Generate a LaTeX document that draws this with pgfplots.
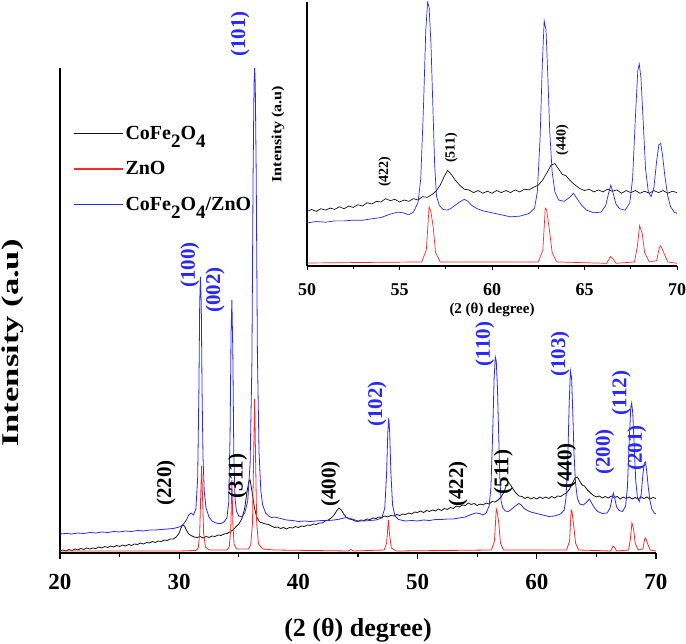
\documentclass[border=0pt]{standalone}
\usepackage{pgfplots}
\pgfplotsset{compat=1.18}
\usepackage{pgfplotstable}
\usepackage{fontspec}
\setmainfont{Liberation Serif}

\definecolor{cfo}{RGB}{20,20,20}
\definecolor{zno}{RGB}{255,40,40}
\definecolor{mix}{RGB}{40,40,255}
\newcommand{\sub}[1]{\raisebox{-8pt}{\fontsize{19}{19}\selectfont #1}}

% CoFe2O4
\pgfplotstableread{
x y
20.0 2
20.25 3
20.5 2
20.75 3.5
21.0 2.5
21.25 4
21.5 3
21.75 4.5
22.0 3.5
22.25 5
22.5 4
22.75 5
23.0 4.5
23.25 6
23.5 5
23.75 6.5
24.0 5.5
24.25 7
24.5 6
24.75 7.5
25.0 6.5
25.25 8
25.5 7
25.75 8.5
26.0 7.5
26.25 9
26.5 8.5
26.75 10
27.0 9
27.25 10.5
27.5 10
27.75 11.5
28.0 10.5
28.25 12
28.5 11.5
28.75 13
29.0 12.5
29.25 14
29.5 14
29.75 16
30.0 20
30.15 25
30.3 28
30.45 27
30.6 23
30.8 19
31.0 17.5
31.25 16
31.5 15.5
31.75 16.5
32.0 15
32.25 16.5
32.5 15.5
32.75 17
33.0 16.5
33.25 18
33.5 17.5
33.75 19
34.0 19.5
34.25 21
34.5 23
34.75 26
35.0 29
35.25 34
35.5 45
35.7 62
35.85 72
35.95 73
36.1 62
36.3 46
36.5 36
36.75 31
37.0 30
37.25 29
37.5 28.5
37.75 27
38.0 25.5
38.25 26
38.5 24.5
38.75 25.5
39.0 24
39.25 25.5
39.5 25
39.75 26.5
40.0 25.5
40.25 27
40.5 26.5
40.75 28
41.0 27.5
41.25 29
41.5 28.5
41.75 30
42.0 30
42.25 32
42.5 33
42.75 35
43.0 38
43.2 42
43.4 45
43.6 43
43.8 39
44.0 36
44.25 34
44.5 33.5
44.75 32
45.0 31.5
45.25 33
45.5 32.5
45.75 34
46.0 33.5
46.25 35
46.5 34.5
46.75 36
47.0 35.5
47.25 37
47.5 36
47.75 37.5
48.0 37
48.25 38.5
48.5 37.5
48.75 39
49.0 38.5
49.25 40
49.5 39
49.75 41
50.0 40.5
50.25 42
50.5 40.5
50.75 42.5
51.0 41.5
51.25 43
51.5 42
51.75 44
52.0 42.5
52.25 44.5
52.5 43.5
52.75 45.5
53.0 44.5
53.25 47
53.5 46
53.75 48
54.0 47.5
54.25 50
54.5 48.5
54.75 49.5
55.0 47.5
55.25 49
55.5 48
55.75 50
56.0 49
56.25 51.5
56.5 51
56.75 53
57.0 56
57.2 60
57.4 66
57.6 71
57.8 68
58.0 64
58.25 60
58.5 57
58.75 56.5
59.0 54.5
59.25 56
59.5 54
59.75 55.5
60.0 54
60.25 56
60.5 54.5
60.75 56
61.0 54.5
61.25 56.5
61.5 55
61.75 57
62.0 56.5
62.25 58.5
62.5 60
62.75 64
63.0 70
63.2 75
63.4 76
63.6 72
63.8 68
64.0 67
64.25 63
64.5 60
64.75 57.5
65.0 56
65.25 57
65.5 55
65.75 56.5
66.0 55
66.25 57
66.5 55.5
66.75 56.5
67.0 54
67.25 56
67.5 54.5
67.75 56
68.0 54
68.25 55.5
68.5 54
68.75 56
69.0 54.5
69.25 56
69.5 54
69.75 55.5
70.0 54.5
}\cfotab

% ZnO
\pgfplotstableread{
x y
20 2
25 2
30 2
31.4 2.5
31.6 5
31.72 20
31.8 55
31.88 87
31.96 55
32.05 20
32.2 6
32.5 3
34.0 3
34.2 6
34.33 25
34.42 73
34.5 30
34.6 9
34.8 4
35.8 4
36.0 8
36.15 30
36.25 100
36.33 154
36.4 100
36.5 30
36.65 9
37 4
38 3
44.2 2
44.4 3.5
44.6 2
47.2 3
47.4 10
47.55 33
47.65 18
47.8 5
48.2 2
56.2 3
56.45 12
56.6 44
56.7 40
56.82 29
56.95 10
57.2 3
62.5 3
62.75 12
62.88 43
62.95 42
63.1 27
63.25 10
63.5 3
66.2 2
66.4 7
66.55 5
66.7 2
67.7 3
67.85 14
67.98 30
68.12 24
68.25 10
68.5 3
68.9 4
69.05 14
69.12 15
69.28 10
69.5 3
70 2
}\znotab

% CoFe2O4/ZnO
\pgfplotstableread{
x y
20.0 19
20.5 19.5
21.0 19
21.5 20
22.0 19.5
22.5 20.5
23.0 20
23.5 21
24.0 20.5
24.5 21.5
25.0 21
25.5 22
26.0 21.5
26.5 22.5
27.0 22
27.5 23
28.0 23
28.5 23.5
29.0 24
29.5 24.5
30.0 26
30.3 28
30.6 33
30.8 38
31.0 40
31.2 38
31.4 44
31.55 75
31.65 160
31.72 250
31.78 276
31.85 250
31.92 160
32.0 95
32.1 62
32.25 45
32.5 36
32.75 32
33.0 30.5
33.25 29.5
33.5 29.5
33.75 31
34.0 35
34.15 50
34.27 120
34.35 220
34.42 253
34.5 200
34.58 100
34.68 55
34.8 42
35.0 37
35.25 36
35.5 40
35.75 52
35.95 90
36.1 190
36.2 380
36.28 470
36.33 485
36.38 470
36.46 380
36.56 200
36.7 100
36.85 62
37.0 48
37.25 40
37.5 37
37.75 35.5
38.0 36
38.5 34.5
39.0 33
39.5 32.5
40.0 31.5
40.5 32
41.0 31.5
41.5 32
42.0 32.5
42.5 32.5
43.0 33
43.5 34
44.0 35.5
44.5 34
45.0 32
45.5 32
46.0 32.5
46.5 33
47.0 35
47.25 45
47.4 80
47.5 120
47.58 135
47.66 120
47.76 80
47.9 48
48.1 37
48.4 33.5
48.75 32.5
49.0 32
49.5 32.5
50.0 32
50.5 33
51.0 32.5
51.5 33.5
52.0 33.5
52.5 34
53.0 34
53.5 35
54.0 36
54.5 38.5
54.9 40
55.2 39.5
55.5 38
55.75 40
56.0 47
56.15 65
56.3 120
56.42 175
56.52 196
56.6 192
56.7 165
56.8 120
56.9 75
57.0 52
57.15 45
57.35 42
57.6 41.5
57.8 43
58.0 45
58.25 47.5
58.5 49.5
58.7 48
58.9 45
59.2 42.5
59.5 41
60.0 39.5
60.5 38
61.0 36.5
61.5 37
62.0 39
62.3 43
62.45 55
62.6 95
62.72 150
62.82 182
62.92 175
63.02 140
63.12 100
63.25 70
63.4 55
63.6 49
63.9 48
64.2 51
64.4 54
64.6 50
64.85 45
65.1 41.5
65.5 39.5
65.9 40
66.15 45
66.3 54
66.42 60
66.55 54
66.7 46
66.9 42.5
67.2 41.5
67.45 47
67.6 65
67.75 110
67.88 145
67.96 150
68.05 140
68.18 105
68.3 72
68.45 55
68.6 51.5
68.75 58
68.9 78
69.02 90
69.12 91
69.22 82
69.35 66
69.5 52
69.65 44
69.85 40
70.0 39
}\mixtab

\begin{document}
\begin{tikzpicture}[font=\bfseries]
\useasboundingbox (-60pt,-91pt) rectangle (626pt,553pt);

% main axis
\begin{axis}[
  at={(0pt,0pt)}, anchor=south west,
  scale only axis, width=596pt, height=485pt,
  xmin=20, xmax=70, ymin=0, ymax=485,
  axis x line*=bottom, axis y line*=left,
  axis line style={line width=1.6pt, -},
  xtick={20,30,...,70}, minor x tick num=1,
  ytick=\empty,
  tick align=outside,
  major tick length=6pt, minor tick length=4pt,
  tick style={line width=1.2pt, black},
  /pgf/number format/assume math mode=true,
  xticklabel style={font=\fontsize{23}{23}\selectfont\bfseries, yshift=-12pt},
  xlabel={(2 (θ) degree)},
  xlabel style={font=\fontsize{26}{26}\selectfont\bfseries, at={(axis description cs:0.5,-0.159)}, anchor=center},
  ylabel={\scalebox{1.44}[1]{Intensity (a.u)}},
  ylabel style={font=\fontsize{24}{24}\selectfont\bfseries, at={(axis description cs:-0.079,0.433)}, anchor=center},
  clip=false,
  legend style={at={(axis description cs:0.022,0.885)}, anchor=north west, draw=none, fill=none,
    font=\fontsize{20}{24}\selectfont\bfseries, row sep=17pt, inner sep=0pt},
  legend cell align=left,
  legend image code/.code={\draw[#1, line width=1.2pt] (0pt,0pt) -- (49pt,0pt);},
  every axis plot/.append style={line width=0.8pt},
]
\addplot[cfo] table {\cfotab};
\addplot[zno] table {\znotab};
\addplot[mix] table {\mixtab};
\legend{CoFe\sub{2}O\sub{4}, ZnO, CoFe\sub{2}O\sub{4}/ZnO}

\begin{scope}[font=\fontsize{21}{21}\selectfont\bfseries]
\node[rotate=90, text=black] at (axis cs:28.9,70) {(220)};
\node[rotate=90, text=black] at (axis cs:34.9,77) {(311)};
\node[rotate=90, text=black] at (axis cs:42.7,69) {(400)};
\node[rotate=90, text=black] at (axis cs:53.4,69) {(422)};
\node[rotate=90, text=black] at (axis cs:57.2,81) {(511)};
\node[rotate=90, text=black] at (axis cs:62.5,87) {(440)};
\node[rotate=90, text=mix] at (axis cs:30.9,288) {(100)};
\node[rotate=90, text=mix] at (axis cs:33.0,263) {(002)};
\node[rotate=90, text=mix] at (axis cs:35.1,519) {(101)};
\node[rotate=90, text=mix] at (axis cs:46.6,149) {(102)};
\node[rotate=90, text=mix] at (axis cs:55.65,209) {(110)};
\node[rotate=90, text=mix] at (axis cs:61.95,199) {(103)};
\node[rotate=90, text=mix] at (axis cs:65.7,101) {(200)};
\node[rotate=90, text=mix] at (axis cs:67.1,160) {(112)};
\node[rotate=90, text=mix] at (axis cs:68.4,105) {(201)};
\end{scope}
\end{axis}

% inset
\begin{axis}[
  at={(247pt,287pt)}, anchor=south west,
  scale only axis, width=370pt, height=264pt,
  xmin=50, xmax=70, ymin=0, ymax=196,
  axis x line*=bottom, axis y line*=left,
  axis line style={line width=1.1pt, -},
  xtick={50,55,...,70}, minor x tick num=1,
  ytick=\empty,
  tick align=outside,
  major tick length=4pt, minor tick length=3pt,
  tick style={line width=0.9pt, black},
  /pgf/number format/assume math mode=true,
  xticklabel style={font=\fontsize{18}{18}\selectfont\bfseries, yshift=-10pt},
  xlabel={(2 (θ) degree)},
  xlabel style={font=\fontsize{15}{15}\selectfont\bfseries, at={(axis description cs:0.5,-0.167)}, anchor=center},
  ylabel={\scalebox{1.15}[1]{Intensity (a.u)}},
  ylabel style={font=\fontsize{14}{14}\selectfont\bfseries, at={(axis description cs:-0.078,0.5)}, anchor=center},
  every axis plot/.append style={line width=0.7pt},
]
\addplot[cfo] table {\cfotab};
\addplot[zno] table {\znotab};
\addplot[mix] table {\mixtab};
\begin{scope}[font=\fontsize{14}{14}\selectfont\bfseries]
\node[rotate=90] at (axis cs:54.2,70) {(422)};
\node[rotate=90] at (axis cs:57.8,87.6) {(511)};
\node[rotate=90] at (axis cs:63.8,93.5) {(440)};
\end{scope}
\end{axis}
\end{tikzpicture}
\end{document}
